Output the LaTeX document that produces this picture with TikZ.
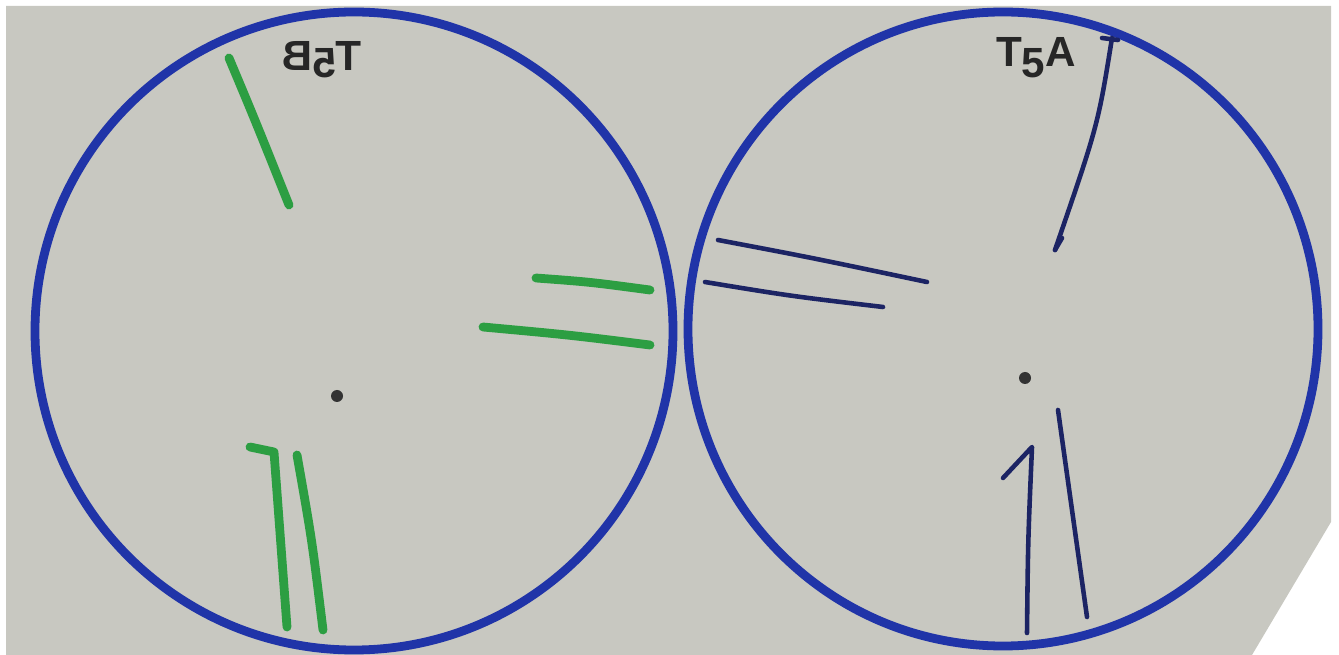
\documentclass[tikz,border=0pt]{standalone}
\usepackage{fontspec}
\setsansfont{Liberation Sans}
\usetikzlibrary{calc}

\definecolor{paper}{RGB}{200,200,193}
\definecolor{rim}{RGB}{32,52,168}
\definecolor{marker}{RGB}{44,158,66}
\definecolor{pen}{RGB}{28,36,100}

\begin{document}
\begin{tikzpicture}[
  x=0.01cm, y=-0.01cm,
  rimline/.style={draw=rim, line width=2.5pt},
  gstroke/.style={draw=marker, line width=2.5pt, line cap=round, line join=round},
  pstroke/.style={draw=pen, line width=1.3pt, line cap=round, line join=round},
  hub/.style={fill=black!80, draw=none},
  tag/.style={font=\sffamily\large\bfseries, text=black!85, inner sep=0pt}
]
\useasboundingbox (0,0) rectangle (1339,655);

% sheet
\fill[paper] (6,6) -- (1331,6) -- (1331,522) -- (1252,655) -- (6,655) -- cycle;

% the two discs
\draw[rimline] (354,331) ellipse [x radius=319, y radius=319];
\draw[rimline] (1003,329) ellipse [x radius=315, y radius=317];

% centres
\fill[hub] (337,396) circle [radius=6];
\fill[hub] (1025,378) circle [radius=6];

% left disc, green marks
\draw[gstroke] (229,58) .. controls (255,120) .. (289,205);
\draw[gstroke] (536,278) .. controls (590,282) .. (650,290);
\draw[gstroke] (483,327) .. controls (570,335) .. (650,345);
\draw[gstroke] (250,447) -- (274,452) .. controls (280,540) .. (287,627);
\draw[gstroke] (297,455) .. controls (312,540) .. (323,630);

% right disc, pen marks
\draw[pstroke] (1102,38) -- (1118,40);
\draw[pstroke] (1112,38) .. controls (1098,125) .. (1055,250);
\draw[pstroke] (1055,250) -- (1062,238);
\draw[pstroke] (718,240) .. controls (813,258) .. (927,282);
\draw[pstroke] (705,282) .. controls (790,296) .. (883,307);
\draw[pstroke] (1003,478) -- (1032,447) .. controls (1028,540) .. (1027,633);
\draw[pstroke] (1058,410) .. controls (1072,510) .. (1087,617);

% labels
\node[tag, xscale=-1] (lblB) at (322,60) {T\raisebox{-0.3ex}{5}B};
\node[tag] (lblA) at (1036,58) {T\raisebox{-0.5ex}{5}A};
\end{tikzpicture}
\end{document}
